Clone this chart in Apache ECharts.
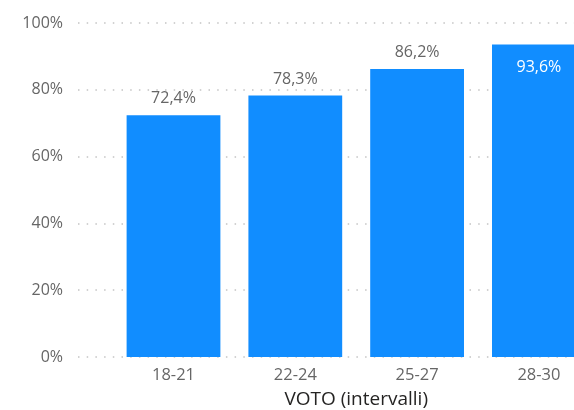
<!DOCTYPE html>
<html>
<head>
<meta charset="utf-8">
<script src="https://cdn.jsdelivr.net/npm/echarts@6/dist/echarts.min.js"></script>
<style>
html,body{margin:0;padding:0;background:#fff;}
#c{width:574px;height:410px;}
</style>
</head>
<body>
<div id="c"></div>
<script>
var categories = ['18-21', '22-24', '25-27', '28-30'];
var values = [72.4, 78.3, 86.2, 93.6];
var yTicks = [0, 20, 40, 60, 80, 100];
var xTitle = 'VOTO (intervalli)';

var FONT = '"Open Sans", "Noto Sans", sans-serif';
var chart = echarts.init(document.getElementById('c'), null, {renderer: 'canvas'});

function fmt(v) { return v.toFixed(1).replace('.', ',') + '%'; }

var data = values.map(function (v, i) {
  var inside = (i === values.length - 1);
  return {
    value: v,
    label: inside ? {position: 'insideTop', distance: 15, color: '#ffffff'} : {position: 'top', distance: 8.5, color: '#666666'}
  };
});

chart.setOption({
  animation: false,
  textStyle: {fontFamily: FONT},
  grid: [
    {left: 78, width: 496, top: 23, height: 334, containLabel: false, outerBoundsMode: 'none'},
    {left: 112.6, width: 487.2, top: 23, height: 334, containLabel: false, outerBoundsMode: 'none'}
  ],
  xAxis: [
    {gridIndex: 0, type: 'value', min: 0, max: 1, show: false},
    {
      gridIndex: 1, type: 'category', data: categories,
      axisLine: {show: false}, axisTick: {show: false},
      axisLabel: {margin: 10, color: '#666666', fontSize: 16.5, fontFamily: FONT},
      name: xTitle, nameLocation: 'middle', nameGap: 33,
      nameTextStyle: {color: '#252423', fontSize: 19, fontFamily: FONT}
    }
  ],
  yAxis: [
    {
      gridIndex: 0, type: 'value', min: yTicks[0], max: yTicks[yTicks.length - 1], interval: 20,
      axisLine: {show: false}, axisTick: {show: false},
      axisLabel: {margin: 15, color: '#666666', fontSize: 16, fontFamily: FONT, formatter: '{value}%'},
      splitLine: {show: true, lineStyle: {color: '#c4c4c4', width: 1.5, type: [1.5, 7.2]}}
    },
    {gridIndex: 1, type: 'value', min: 0, max: 100, show: false, splitLine: {show: false}}
  ],
  series: [{
    type: 'bar', xAxisIndex: 1, yAxisIndex: 1,
    data: data,
    barCategoryGap: '23%',
    itemStyle: {color: '#118DFF'},
    label: {show: true, fontSize: 16, fontFamily: FONT, formatter: function (p) { return fmt(p.value); }}
  }]
});
</script>
</body>
</html>
